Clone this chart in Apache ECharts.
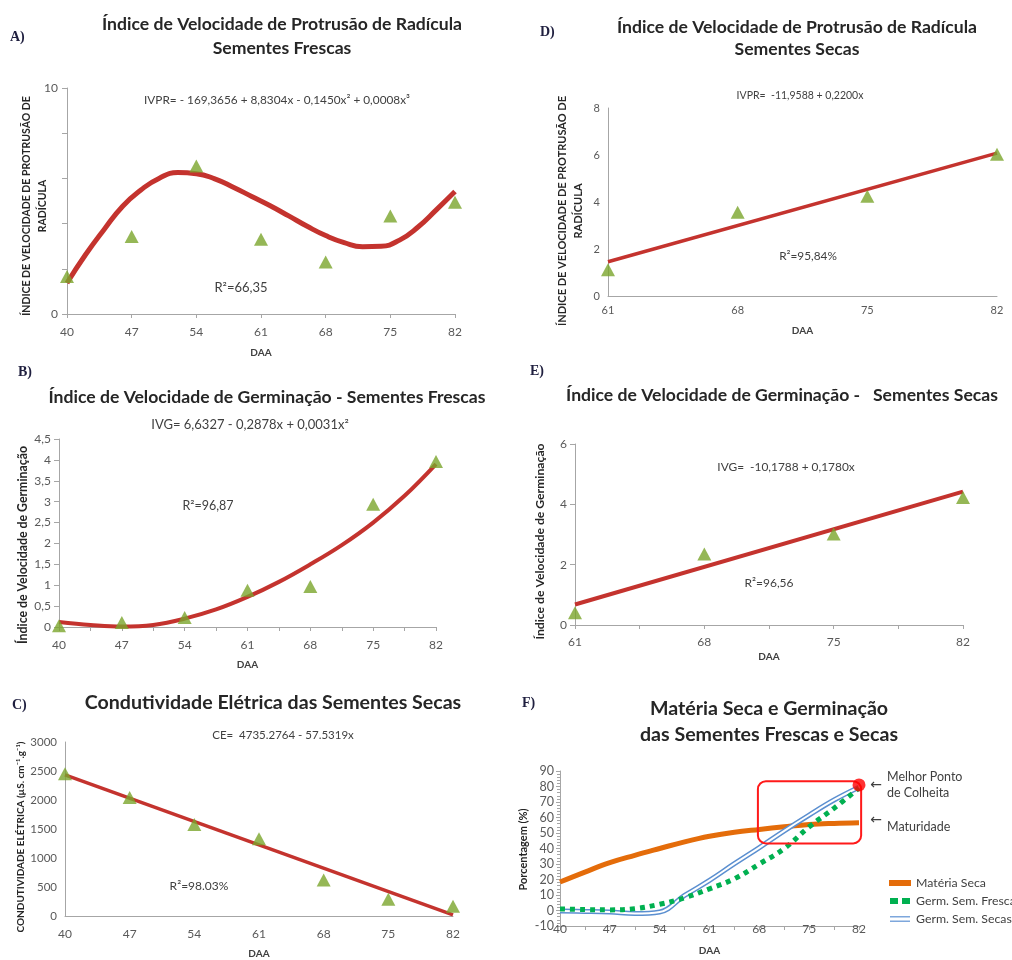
<!DOCTYPE html>
<html><head><meta charset="utf-8">
<script src="https://cdn.jsdelivr.net/npm/echarts@6/dist/echarts.min.js"></script>
<style>html,body{margin:0;padding:0;background:#fff}#c{width:1012px;height:960px}</style>
</head><body><div id="c"></div>
<script>
// ---------- data ----------
const daa = [40, 47, 54, 61, 68, 75, 82];
const daaSecas = [61, 68, 75, 82];
const daaHalf = [40, 43.5, 47, 50.5, 54, 57.5, 61, 64.5, 68, 71.5, 75, 78.5, 82];
const daaSecasHalf = [61, 64.5, 68, 71.5, 75, 78.5, 82];

// A) IVPR sementes frescas
const aPoints = [1.66, 3.43, 6.55, 3.31, 2.30, 4.34, 4.95];
const aCurveX = [40, 42, 44, 46, 48, 50, 52, 54, 56, 58, 60, 62, 64, 66, 68, 70, 72, 74, 76, 78, 80, 82];
const aCurve = [1.37, 2.62, 3.73, 4.76, 5.49, 6.01, 6.26, 6.21, 5.98, 5.61, 5.20, 4.79, 4.34, 3.88, 3.47, 3.16, 2.98, 3.00, 3.27, 3.85, 4.62, 5.42];
// D) IVPR sementes secas
const dPoints = [1.12, 3.56, 4.24, 6.03];
const dLineX = [61, 82];
const dLine = [1.46, 6.08];
// B) IVG sementes frescas
const bPoints = [0.03, 0.11, 0.23, 0.88, 0.97, 2.94, 3.96];
const bCurve = [0.12, 0.05, 0.01, 0.05, 0.2, 0.42, 0.72, 1.08, 1.5, 1.96, 2.5, 3.14, 3.9];
// E) IVG sementes secas
const ePoints = [0.41, 2.35, 3.02, 4.23];
const eLineX = [61, 82];
const eLine = [0.68, 4.42];
// C) Condutividade elétrica
const cPoints = [2453, 2042, 1577, 1330, 619, 290, 170];
const cLineX = [40, 82];
const cLine = [2434, 18];
// F) Matéria seca e germinação
const materiaSeca = [18.4, 24.8, 30.9, 35.6, 40.0, 44.3, 47.9, 50.5, 52.3, 54.0, 55.5, 56.2, 56.6];
const germFrescas = [1.0, 0.6, 0.4, 1.2, 4.0, 8.2, 14.0, 20.5, 30.0, 40.0, 54.0, 66.0, 79.0];
const germSecas = [-0.4, -0.6, -1.0, -2.0, -1.0, 9.7, 19.4, 30.2, 40.6, 51.4, 61.6, 71.3, 79.5];
const bestPoint = [82, 81];
const harvestBox = [67.8, 83.4, 82.3, 43.3]; // x1, y1, x2, y2 in data units

// ---------- styles ----------
const FONT = 'Lato, "Liberation Sans", sans-serif';
const LBL = '#595959';
const AXC = '#a6a6a6';
const RED = '#c4332e';
const TRI = '#7aa52c';

const pairs = (xs, ys) => xs.map((x, i) => [x, ys[i]]);

const grids = [
  {left: 67, top: 88, width: 388, height: 226},   // A
  {left: 608, top: 108, width: 389, height: 188}, // D
  {left: 59, top: 439, width: 377, height: 188},  // B
  {left: 575, top: 444, width: 388, height: 181}, // E
  {left: 65, top: 742, width: 388, height: 182},  // C
  {left: 560, top: 771, width: 299, height: 155}  // F
];

function xAx(gi, min, max, labels, ticks, nameGap, margin, extra) {
  return Object.assign({
    type: 'value', gridIndex: gi, min: min, max: max,
    name: 'DAA', nameLocation: 'middle', nameGap: nameGap, nameMoveOverlap: false,
    nameTextStyle: {fontFamily: FONT, fontWeight: 'bold', fontSize: 10, color: '#404040'},
    axisLine: {show: true, lineStyle: {color: AXC, width: 1}},
    axisTick: {show: true, customValues: ticks, length: 4, lineStyle: {color: AXC}},
    axisLabel: {customValues: labels, fontFamily: FONT, fontSize: 12, color: LBL, margin: margin},
    splitLine: {show: false}
  }, extra || {});
}
function yAx(gi, min, max, interval, name, nameGap, shiftDown, fontSize, nameSize, extra) {
  return Object.assign({
    type: 'value', gridIndex: gi, min: min, max: max, interval: interval,
    name: name, nameLocation: 'middle', nameGap: nameGap, nameRotate: 90, nameMoveOverlap: false,
    nameTextStyle: {fontFamily: FONT, fontWeight: 'bold', fontSize: nameSize, color: '#262626',
      lineHeight: nameSize + 5, padding: [0, shiftDown * 2, 0, 0]},
    axisLine: {show: true, lineStyle: {color: AXC, width: 1}},
    axisTick: {show: true, length: 5, lineStyle: {color: AXC}},
    axisLabel: {fontFamily: FONT, fontSize: fontSize, color: LBL, margin: 8},
    splitLine: {show: false}
  }, extra || {});
}

const xAxis = [
  xAx(0, 40, 82, daa, daa, 34, 12),
  xAx(1, 61, 82, daaSecas, [], 30, 9, {axisTick: {show: false},
    axisLabel: {customValues: daaSecas, fontFamily: FONT, fontSize: 11, color: LBL, margin: 9}}),
  xAx(2, 40, 82, daa, daaHalf, 33, 12),
  xAx(3, 61, 82, daaSecas, daaSecasHalf, 27, 11),
  xAx(4, 40, 82, daa, [], 33, 12, {axisTick: {show: false}}),
  xAx(5, 40, 82, daa, [], 20, -3, {axisLine: {show: false}, axisTick: {show: false}}),
  // F zero line with ticks
  {type: 'value', gridIndex: 5, min: 40, max: 82, position: 'bottom',
   axisLine: {show: true, onZero: true, lineStyle: {color: AXC}},
   axisTick: {show: true, customValues: daaHalf, length: 4, lineStyle: {color: AXC}},
   axisLabel: {show: false}, splitLine: {show: false}}
];

const yAxis = [
  yAx(0, 0, 10, 2, 'ÍNDICE DE VELOCIDADE DE PROTRUSÃO DE\nRADÍCULA', 17, 5, 12, 10.5,
      {axisLabel: {fontFamily: FONT, fontSize: 12, color: LBL, margin: 9,
        formatter: v => (v === 0 || v === 10) ? String(v) : ''}}),
  yAx(1, 0, 8, 2, 'ÍNDICE DE VELOCIDADE DE PROTRUSÃO DE\nRADÍCULA', 22, 9, 11, 11,
      {axisTick: {show: false}}),
  yAx(2, 0, 4.5, 0.5, 'Índice de Velocidade de Germinação', 27, 12, 12, 12.3,
      {axisLabel: {fontFamily: FONT, fontSize: 12, color: LBL, margin: 8,
        formatter: v => String(v).replace('.', ',')}}),
  yAx(3, 0, 6, 2, 'Índice de Velocidade de Germinação', 26, 7, 12, 12.2),
  yAx(4, 0, 3000, 500, 'CONDUTIVIDADE ELÉTRICA (µS. cm⁻¹.g⁻¹)', 37, 8, 11, 10,
      {axisTick: {show: false},
       axisLabel: {fontFamily: FONT, fontSize: 11.5, color: LBL, margin: 8, formatter: v => String(v)}}),
  yAx(5, -10, 90, 10, 'Porcentagem (%)', 29, 1, 12, 11,
      {axisTick: {show: true, length: 4, lineStyle: {color: AXC}},
       minorTick: {show: true, splitNumber: 5, length: 3, lineStyle: {color: AXC}},
       axisLabel: {fontFamily: FONT, fontSize: 12.5, color: LBL, margin: 6}})
];

function fitLine(name, xi, data, width, smooth) {
  return {type: 'line', name: name, xAxisIndex: xi, yAxisIndex: xi, data: data,
    smooth: smooth || false, showSymbol: false, symbol: 'none', z: 2,
    lineStyle: {color: RED, width: width}, itemStyle: {color: RED}};
}
function tri(name, xi, data) {
  return {type: 'scatter', name: name, xAxisIndex: xi, yAxisIndex: xi, data: data,
    symbol: 'triangle', symbolSize: [14, 13], z: 3,
    itemStyle: {color: TRI}};
}

const series = [
  fitLine('A curva', 0, pairs(aCurveX, aCurve), 5, 0.5),
  tri('A obs', 0, pairs(daa, aPoints)),
  fitLine('D reta', 1, pairs(dLineX, dLine), 3.5, false),
  tri('D obs', 1, pairs(daaSecas, dPoints)),
  fitLine('B curva', 2, pairs(daaHalf, bCurve), 4, 0.4),
  tri('B obs', 2, pairs(daa, bPoints)),
  fitLine('E reta', 3, pairs(eLineX, eLine), 4, false),
  tri('E obs', 3, pairs(daaSecas, ePoints)),
  fitLine('C reta', 4, pairs(cLineX, cLine), 3.5, false),
  tri('C obs', 4, pairs(daa, cPoints)),
  {type: 'line', name: 'Matéria Seca', xAxisIndex: 5, yAxisIndex: 5, data: pairs(daaHalf, materiaSeca),
   smooth: 0.4, showSymbol: false, symbol: 'none', z: 3,
   lineStyle: {color: '#e46c0a', width: 5}, itemStyle: {color: '#e46c0a'}},
  {type: 'line', name: 'Germ. Sem. Secas', xAxisIndex: 5, yAxisIndex: 5, data: pairs(daaHalf, germSecas),
   smooth: 0.4, showSymbol: false, symbol: 'none', z: 4,
   lineStyle: {color: '#5b8fd0', width: 5}, itemStyle: {color: '#7ea7dc'}},
  {type: 'line', name: 'Germ. Sem. Secas (centro)', xAxisIndex: 5, yAxisIndex: 5, data: pairs(daaHalf, germSecas),
   smooth: 0.4, showSymbol: false, symbol: 'none', z: 5,
   lineStyle: {color: '#ffffff', width: 2}, itemStyle: {color: '#ffffff'}},
  {type: 'line', name: 'Germ. Sem. Frescas', xAxisIndex: 5, yAxisIndex: 5, data: pairs(daaHalf, germFrescas),
   smooth: 0.4, showSymbol: false, symbol: 'none', z: 6,
   lineStyle: {color: '#00b050', width: 5, type: [5, 5], cap: 'butt'}, itemStyle: {color: '#00b050'}},
  {type: 'scatter', name: 'Melhor Ponto de Colheita', xAxisIndex: 5, yAxisIndex: 5, data: [bestPoint],
   symbol: 'circle', symbolSize: 13, z: 8, itemStyle: {color: '#ff0000'}}
];

function txt(x, y, text, font, fill, align) {
  return {type: 'text', x: x, y: y, z: 10, silent: true,
    style: {text: text, font: font, fill: fill || '#262626', align: align || 'center', verticalAlign: 'middle'}};
}
const TFONT = 'bold 17.6px ' + FONT;
const BIGFONT = 'bold 19.6px ' + FONT;
const PFONT = 'bold 14px "Liberation Serif", "DejaVu Serif", serif';
const EQC = '#404040';

const texts = [
  // A
  txt(10, 37, 'A)', PFONT, '#1f1f3f', 'left'),
  txt(282, 24, 'Índice de Velocidade de Protrusão de Radícula', TFONT),
  txt(282, 48, 'Sementes Frescas', TFONT),
  txt(277, 100, 'IVPR= - 169,3656 + 8,8304x - 0,1450x² + 0,0008x³', '11.8px ' + FONT, EQC),
  txt(241, 288, 'R²=66,35', '13px ' + FONT, EQC),
  // D
  txt(540, 32, 'D)', PFONT, '#1f1f3f', 'left'),
  txt(797, 27, 'Índice de Velocidade de Protrusão de Radícula', TFONT),
  txt(797, 49, 'Sementes Secas', TFONT),
  txt(800, 96, 'IVPR=  -11,9588 + 0,2200x', '10.5px ' + FONT, EQC),
  txt(808, 256, 'R²=95,84%', '11.8px ' + FONT, EQC),
  // B
  txt(18, 372, 'B)', PFONT, '#1f1f3f', 'left'),
  txt(267, 397, 'Índice de Velocidade de Germinação - Sementes Frescas', TFONT),
  txt(250, 425, 'IVG= 6,6327 - 0,2878x + 0,0031x²', '13px ' + FONT, EQC),
  txt(208, 506, 'R²=96,87', '12.5px ' + FONT, EQC),
  // E
  txt(530, 371, 'E)', PFONT, '#1f1f3f', 'left'),
  txt(782, 395, 'Índice de Velocidade de Germinação -   Sementes Secas', TFONT),
  txt(786, 467, 'IVG=  -10,1788 + 0,1780x', '11.9px ' + FONT, EQC),
  txt(769, 583, 'R²=96,56', '12px ' + FONT, EQC),
  // C
  txt(12, 705, 'C)', PFONT, '#1f1f3f', 'left'),
  txt(273, 703, 'Condutividade Elétrica das Sementes Secas', BIGFONT),
  txt(283, 735, 'CE=  4735.2764 - 57.5319x', '11.5px ' + FONT, EQC),
  txt(199, 886, 'R²=98.03%', '12px ' + FONT, EQC),
  // F
  txt(522, 703, 'F)', PFONT, '#1f1f3f', 'left'),
  txt(769, 709, 'Matéria Seca e Germinação', BIGFONT),
  txt(769, 735, 'das Sementes Frescas e Secas', BIGFONT),
  txt(887, 777, 'Melhor Ponto', '12.5px ' + FONT, EQC, 'left'),
  txt(887, 793, 'de Colheita', '12.5px ' + FONT, EQC, 'left'),
  txt(887, 827, 'Maturidade', '12.5px ' + FONT, EQC, 'left'),
  txt(876, 785, '←', '14px "DejaVu Sans", sans-serif', '#404040'),
  txt(876, 820, '←', '14px "DejaVu Sans", sans-serif', '#404040')
];

const chart = echarts.init(document.getElementById('c'), null, {renderer: 'canvas'});
const option = {
  backgroundColor: '#ffffff',
  animation: false,
  grid: grids,
  xAxis: xAxis,
  yAxis: yAxis,
  series: series,
  legend: {
    left: 884, top: 872, orient: 'vertical', itemGap: 6, itemWidth: 22, itemHeight: 6,
    textStyle: {fontFamily: FONT, fontSize: 12.3, color: '#404040'},
    data: [
      {name: 'Matéria Seca', icon: 'rect'},
      {name: 'Germ. Sem. Frescas', icon: 'path://M0,0H8V6H0ZM12,0H20V6H12Z'},
      {name: 'Germ. Sem. Secas', icon: 'path://M0,0H20V1.6H0ZM0,4.4H20V6H0Z'}
    ]
  },
  graphic: texts
};
chart.setOption(option);

// harvest box drawn in data units of panel F
const p1 = chart.convertToPixel({xAxisIndex: 5, yAxisIndex: 5}, [harvestBox[0], harvestBox[1]]);
const p2 = chart.convertToPixel({xAxisIndex: 5, yAxisIndex: 5}, [harvestBox[2], harvestBox[3]]);
chart.setOption({
  graphic: texts.concat([{
    type: 'rect', z: 7, silent: true,
    shape: {x: p1[0], y: p1[1], width: p2[0] - p1[0], height: p2[1] - p1[1], r: 8},
    style: {fill: 'none', stroke: '#ff1a1a', lineWidth: 2}
  }])
});
</script>
</body></html>
